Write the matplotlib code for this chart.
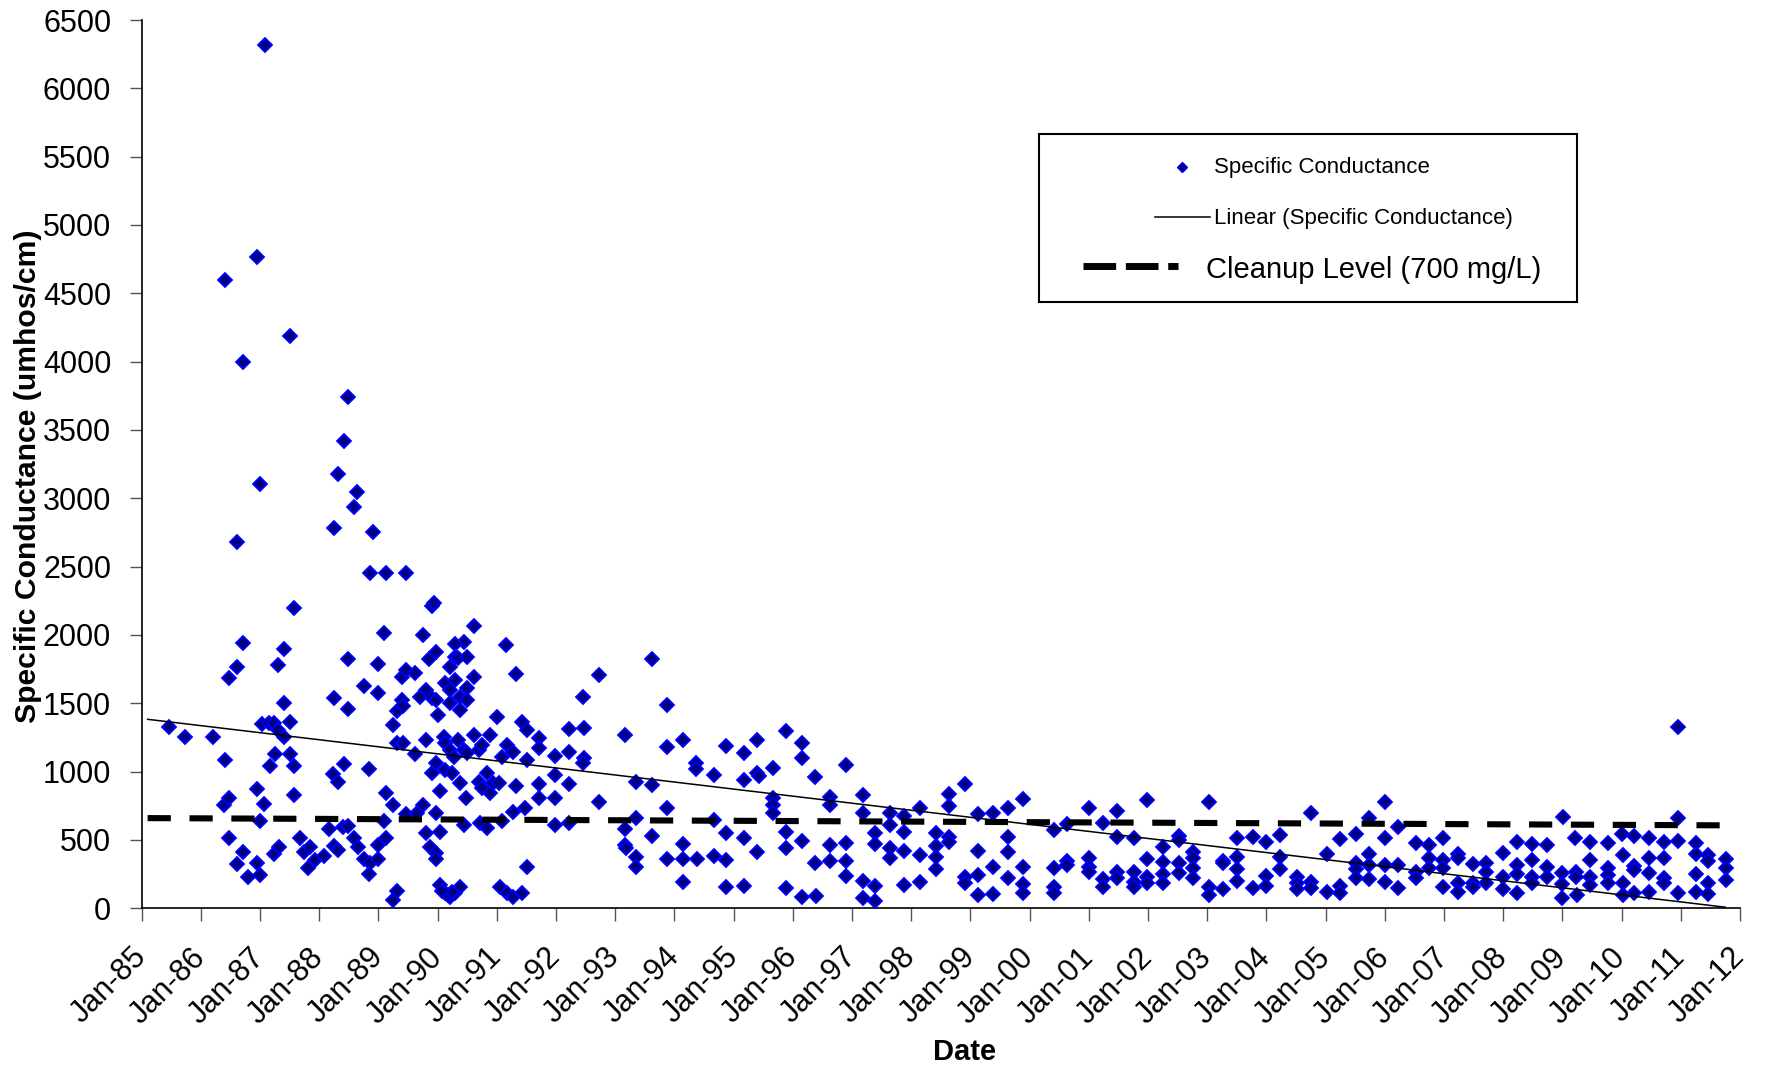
import numpy as np
import matplotlib.pyplot as plt
from matplotlib.lines import Line2D
from matplotlib.patches import Rectangle

plt.rcParams['font.family'] = ['Liberation Sans', 'DejaVu Sans']

W, H = 1772, 1069

# sample dates (decimal years) and specific conductance (umhos/cm)
yr_1985_91 = [
    1987.08, 1986.94, 1986.40, 1987.50, 1986.71, 1988.48, 1988.41, 1988.32, 1987.00, 1988.63,
    1985.46, 1985.73, 1986.21, 1986.40, 1986.39, 1986.48, 1986.48, 1986.61, 1986.61, 1986.48,
    1986.61, 1986.71, 1986.71, 1986.79, 1986.94, 1987.00, 1986.94, 1987.00, 1987.07, 1987.04,
    1987.15, 1987.24, 1987.30, 1987.40, 1987.30, 1987.40, 1987.40, 1987.51, 1987.25, 1987.16,
    1987.51, 1987.57, 1987.57, 1987.57, 1987.24, 1987.32, 1987.68, 1987.74, 1987.85, 1987.81,
    1987.92, 1988.08, 1988.17, 1988.25, 1988.25, 1988.23, 1988.32, 1988.25, 1988.32, 1988.41,
    1988.48, 1988.48, 1988.40, 1988.49, 1988.58, 1988.65, 1988.59, 1988.75, 1988.75, 1988.86,
    1988.84, 1988.84, 1988.90, 1988.85, 1989.00, 1989.00, 1989.00, 1989.00, 1989.10, 1989.13,
    1989.10, 1989.13, 1989.25, 1989.13, 1989.24, 1989.31, 1989.25, 1989.31, 1989.39, 1989.42,
    1989.31, 1989.42, 1989.47, 1989.39, 1989.47, 1989.61, 1989.47, 1989.61, 1989.75, 1989.81,
    1989.70, 1989.81, 1989.75, 1989.65, 1989.81, 1989.85, 1989.97, 1989.90, 1989.93, 1989.90,
    1989.97, 1990.01, 1989.90, 1989.98, 1989.87, 1989.98, 1989.97, 1990.04, 1990.04, 1990.13,
    1990.21, 1990.30, 1990.38, 1989.97, 1990.04, 1990.10, 1990.13, 1990.21, 1990.27, 1990.13,
    1990.21, 1990.30, 1990.21, 1990.13, 1990.24, 1990.21, 1990.30, 1990.35, 1990.44, 1990.50,
    1990.30, 1990.35, 1990.44, 1990.49, 1990.38, 1990.49, 1990.50, 1990.38, 1990.61, 1990.61,
    1990.61, 1990.69, 1990.75, 1990.38, 1990.48, 1990.44, 1990.69, 1990.75, 1990.83, 1990.89,
    1990.94, 1991.03, 1990.72, 1990.83, 1990.89, 1991.00, 1991.08, 1991.17, 1991.28, 1991.06,
    1991.17, 1991.28, 1991.42, 1991.16, 1991.33, 1991.42, 1991.51, 1991.33, 1991.27, 1991.51,
    1991.51, 1991.48, 1991.08, 1990.17, 1990.25, 1990.08,
]
sc_1985_91 = [
    6320, 4768, 4597, 4187, 3999, 3738, 3418, 3179, 3104, 3045,
    1330, 1252, 1252, 1086, 756, 805, 1688, 2677, 1769, 512,
    325, 1940, 410, 232, 871, 642, 329, 244, 761, 1347,
    1359, 1354, 1781, 1898, 1305, 1257, 1500, 1362, 1130, 1042,
    1130, 2201, 1042, 830, 398, 451, 517, 415, 451, 293,
    354, 383, 581, 2786, 1537, 983, 927, 456, 427, 1057,
    1823, 1457, 598, 603, 512, 451, 2935, 1623, 359, 334,
    1017, 249, 2757, 2457, 1784, 1574, 464, 359, 2011, 2457,
    639, 842, 756, 512, 1340, 129, 61, 1447, 1525, 1481,
    1208, 1213, 2457, 1696, 1745, 1720, 690, 1130, 2001, 1598,
    1549, 1232, 756, 695, 549, 1823, 1879, 2215, 2235, 1537,
    1525, 1415, 988, 1061, 451, 403, 359, 861, 171, 110,
    85, 110, 159, 695, 561, 1257, 1208, 1159, 1110, 1652,
    1598, 1671, 1500, 1013, 988, 1769, 1842, 1830, 1952, 1837,
    1932, 1232, 1159, 1135, 1549, 1610, 1525, 1452, 2067, 1696,
    1269, 1159, 1196, 915, 805, 610, 927, 878, 988, 842,
    915, 915, 622, 586, 1269, 1403, 1110, 1196, 1147, 159,
    110, 85, 110, 1928, 1715, 1366, 1305, 895, 708, 305,
    1086, 732, 639, 95, 120, 130,
]

yr_1991_98 = [
    1991.72, 1991.72, 1991.72, 1991.72, 1991.98, 1991.98, 1991.98, 1991.98, 1992.22, 1992.22,
    1992.22, 1992.22, 1992.46, 1992.47, 1992.47, 1992.46, 1992.73, 1992.73, 1993.16, 1993.16,
    1993.16, 1993.18, 1993.35, 1993.35, 1993.35, 1993.35, 1993.62, 1993.62, 1993.62, 1993.87,
    1993.87, 1993.88, 1993.88, 1994.14, 1994.14, 1994.14, 1994.14, 1994.37, 1994.37, 1994.38,
    1994.66, 1994.66, 1994.66, 1994.87, 1994.87, 1994.87, 1994.87, 1995.18, 1995.18, 1995.18,
    1995.18, 1995.39, 1995.39, 1995.42, 1995.39, 1995.66, 1995.66, 1995.66, 1995.66, 1995.89,
    1995.89, 1995.89, 1995.89, 1996.15, 1996.15, 1996.15, 1996.15, 1996.38, 1996.38, 1996.39,
    1996.62, 1996.62, 1996.62, 1996.62, 1996.89, 1996.89, 1996.89, 1996.89, 1997.18, 1997.18,
    1997.18, 1997.18, 1997.39, 1997.39, 1997.39, 1997.39, 1997.64, 1997.64, 1997.64, 1997.64,
    1997.88, 1997.88, 1997.88, 1997.88, 1998.15, 1998.15, 1998.15, 1998.42, 1998.42, 1998.42,
    1998.42, 1998.63, 1998.63, 1998.63, 1998.63,
]
sc_1991_98 = [
    1244, 1171, 908, 805, 1115, 976, 810, 610, 1310, 1147,
    908, 622, 1549, 1318, 1098, 1061, 1708, 781, 1269, 578,
    464, 439, 927, 659, 373, 305, 1825, 903, 529, 1488,
    1183, 732, 359, 1232, 468, 359, 195, 1066, 1017, 359,
    976, 647, 383, 1188, 549, 354, 159, 1139, 939, 512,
    163, 1232, 988, 969, 410, 1025, 805, 756, 700, 1298,
    561, 444, 146, 1208, 1099, 493, 81, 964, 329, 93,
    817, 756, 464, 349, 1049, 476, 349, 239, 830, 700,
    203, 78, 549, 468, 163, 56, 700, 610, 439, 366,
    676, 561, 420, 171, 732, 390, 190, 549, 456, 373,
    285, 834, 749, 525, 488,
]

yr_1999_11 = [
    1998.91, 1998.91, 1998.91, 1999.12, 1999.12, 1999.12, 1999.12, 1999.38, 1999.38, 1999.38,
    1999.64, 1999.64, 1999.64, 1999.64, 1999.88, 1999.88, 1999.88, 1999.88, 2000.41, 2000.41,
    2000.41, 2000.41, 2000.63, 2000.63, 2000.63, 2001.00, 2001.00, 2001.00, 2001.00, 2001.24,
    2001.24, 2001.24, 2001.47, 2001.47, 2001.47, 2001.47, 2001.76, 2001.76, 2001.76, 2001.76,
    2001.99, 2001.99, 2001.99, 2001.99, 2002.25, 2002.25, 2002.25, 2002.25, 2002.52, 2002.52,
    2002.52, 2002.52, 2002.76, 2002.76, 2002.76, 2002.76, 2003.03, 2003.03, 2003.03, 2003.27,
    2003.27, 2003.27, 2003.51, 2003.51, 2003.51, 2003.51, 2003.78, 2003.78, 2004.00, 2004.00,
    2004.00, 2004.23, 2004.23, 2004.23, 2004.52, 2004.52, 2004.52, 2004.76, 2004.76, 2004.76,
    2005.02, 2005.02, 2005.25, 2005.25, 2005.25, 2005.52, 2005.52, 2005.52, 2005.52, 2005.74,
    2005.74, 2005.74, 2005.74, 2006.00, 2006.00, 2006.00, 2006.00, 2006.22, 2006.22, 2006.22,
    2006.53, 2006.53, 2006.53, 2006.74, 2006.74, 2006.74, 2006.98, 2006.98, 2006.98, 2006.98,
    2007.24, 2007.24, 2007.24, 2007.24, 2007.49, 2007.49, 2007.49, 2007.71, 2007.71, 2007.71,
    2007.99, 2007.99, 2007.99, 2008.23, 2008.23, 2008.23, 2008.23, 2008.48, 2008.48, 2008.48,
    2008.48, 2008.74, 2008.74, 2008.74, 2009.01, 2009.00, 2009.00, 2009.00, 2009.22, 2009.23,
    2009.23, 2009.24, 2009.46, 2009.46, 2009.46, 2009.46, 2009.77, 2009.77, 2009.77, 2009.77,
    2010.00, 2010.02, 2010.02, 2010.02, 2010.21, 2010.21, 2010.21, 2010.21, 2010.47, 2010.47,
    2010.47, 2010.47, 2010.72, 2010.72, 2010.72, 2010.72, 2010.96, 2010.96, 2010.96, 2010.96,
    2011.25, 2011.25, 2011.25, 2011.25, 2011.46, 2011.46, 2011.46, 2011.46, 2011.76, 2011.76,
    2011.76,
]
sc_1999_11 = [
    908, 232, 188, 688, 420, 244, 98, 700, 300, 102,
    732, 525, 410, 224, 800, 300, 176, 110, 573, 293,
    159, 115, 615, 349, 317, 732, 366, 305, 268, 622,
    215, 159, 712, 525, 268, 220, 517, 268, 195, 159,
    793, 361, 232, 183, 451, 337, 249, 183, 529, 500,
    334, 256, 415, 366, 293, 224, 781, 159, 98, 349,
    334, 139, 512, 373, 288, 200, 525, 146, 488, 237,
    163, 537, 378, 288, 232, 183, 139, 695, 195, 146,
    395, 122, 508, 163, 110, 542, 334, 285, 224, 664,
    395, 317, 215, 781, 517, 317, 190, 598, 317, 151,
    476, 268, 224, 464, 366, 298, 512, 354, 293, 159,
    395, 366, 183, 122, 322, 188, 159, 334, 268, 188,
    403, 232, 139, 488, 317, 249, 110, 468, 354, 232,
    188, 464, 305, 227, 671, 261, 176, 73, 512, 268,
    232, 98, 488, 354, 232, 171, 476, 293, 244, 183,
    542, 390, 183, 98, 532, 310, 281, 110, 512, 366,
    256, 117, 483, 366, 220, 188, 1330, 659, 493, 110,
    476, 395, 251, 122, 390, 346, 183, 102, 359, 293,
    207,
]

# cleanup level series as drawn (ends of the dashed line)
cleanup_x = [1985.1, 2011.75]
cleanup_y = [660, 607]
trend_x = [1985.1, 2011.75]

year_ticks = list(range(1985, 2013))
year_labels = ['Jan-%02d' % (y % 100) for y in year_ticks]
y_ticks = list(range(0, 6501, 500))

yrs = np.array(yr_1985_91 + yr_1991_98 + yr_1999_11)
sc = np.array(sc_1985_91 + sc_1991_98 + sc_1999_11)

fig = plt.figure(figsize=(W / 100, H / 100), dpi=100)
x0, x1, yb, yt = 141.7, 1740, 908.3, 20
ax = fig.add_axes([x0 / W, 1 - yb / H, (x1 - x0) / W, (yb - yt) / H])

ax.plot(yrs, sc, ls='none', marker='D', ms=7.5, mfc='#000080', mec='#0000ff',
        mew=1.3, zorder=3)

# linear trend of the data
coef = np.polyfit(yrs, sc, 1)
tx = np.array(trend_x)
ax.plot(tx, np.polyval(coef, tx), color='black', lw=1.1, zorder=4)

ax.plot(cleanup_x, cleanup_y, color='black', lw=4.4, dashes=(3.8, 3.05),
        dash_capstyle='butt', zorder=5)

ax.set_xlim(1985, 2012)
ax.set_ylim(0, 6500)
ax.set_xticks(year_ticks)
ax.set_xticklabels(year_labels, rotation=45, ha='right', va='center',
                   rotation_mode='anchor')
ax.set_yticks(y_ticks)
ax.tick_params(axis='both', labelsize=22, direction='out', length=9, width=1,
               color='#555555')
ax.tick_params(axis='y', pad=13)
ax.tick_params(axis='x', pad=23)
for s in ['top', 'right']:
    ax.spines[s].set_visible(False)
for s in ['left', 'bottom']:
    ax.spines[s].set_linewidth(1.2)

ax.set_xlabel('Date', fontsize=21, fontweight='bold', va='center')
ax.xaxis.set_label_coords((965 - x0) / (x1 - x0), -(1052 - yb) / (yb - yt))
ax.set_ylabel('Specific Conductance (umhos/cm)', fontsize=21.7,
              fontweight='bold', va='center')
ax.yaxis.set_label_coords((27.5 - x0) / (x1 - x0), 0.4865)


# legend box drawn by hand in pixel positions
def fx(x):
    return x / W


def fy(y):
    return 1 - y / H


fig.add_artist(Rectangle((fx(1039), fy(302)), (1577 - 1039) / W, (302 - 134) / H,
                         transform=fig.transFigure, fill=False, ec='black', lw=1.5))
fig.add_artist(Line2D([fx(1182)], [fy(167)], marker='D', ms=5.5, mfc='#000080',
                      mec='#0000ff', mew=1.0, transform=fig.transFigure))
fig.text(fx(1214), fy(168), 'Specific Conductance', fontsize=16, va='center')
fig.add_artist(Line2D([fx(1155), fx(1210)], [fy(217), fy(217)], color='black',
                      lw=1.1, transform=fig.transFigure))
fig.text(fx(1214), fy(218), 'Linear (Specific Conductance)', fontsize=16, va='center')
fig.add_artist(Line2D([fx(1083), fx(1178)], [fy(266), fy(266)], color='black',
                      lw=5, dashes=(4.7, 1.4), dash_capstyle='butt',
                      transform=fig.transFigure))
fig.text(fx(1206), fy(270), 'Cleanup Level (700 mg/L)', fontsize=21, va='center')

fig.savefig('out.png', dpi=100)
